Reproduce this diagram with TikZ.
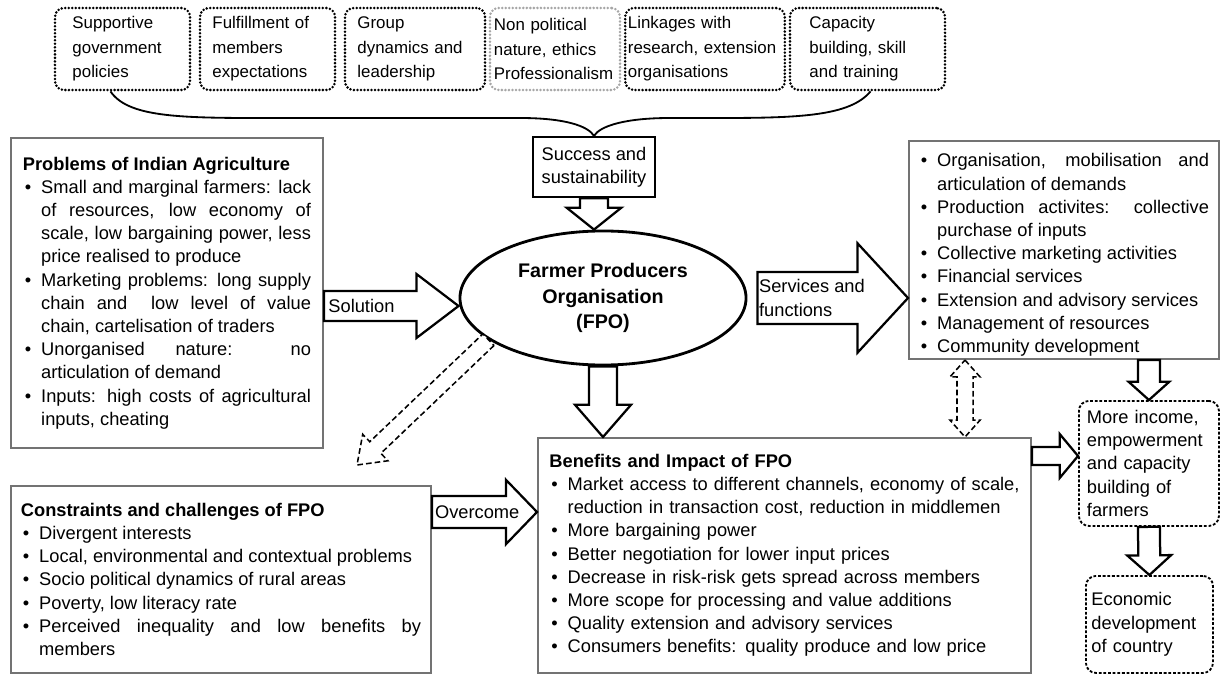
\documentclass[tikz,border=0pt]{standalone}
\usepackage{fontspec}
\setmainfont{Liberation Sans}
\usepackage{enumitem}
\usetikzlibrary{calc,shapes.geometric}

\setlength{\parindent}{0pt}
\newlist{blist}{itemize}{1}
\setlist[blist]{label=\textbullet,leftmargin=13pt,labelsep=7pt,itemsep=0pt,parsep=0pt,topsep=0pt,partopsep=0pt}

\newcommand{\txt}{\fontsize{13}{16.5}\selectfont}

\tikzset{
  bigbox/.style={draw=black!55, line width=1.3pt, anchor=north west, inner xsep=#1, inner ysep=2pt, align=justify, font=\txt},
  topbox/.style={draw, line width=2pt, dash pattern=on 0pt off 2.5pt, line cap=round, rounded corners=0.22cm, minimum height=2.05cm, inner xsep=2pt, align=left, font=\fontsize{12}{17.5}\selectfont},
  endbox/.style={draw, line width=1.3pt, dash pattern=on 2pt off 1.3pt, rounded corners=0.25cm, anchor=north west, align=left, font=\txt},
  fat/.style={draw, line width=1.6pt, fill=white, line join=miter},
  fatdash/.style={line width=1.1pt, dash pattern=on 4pt off 2.2pt},
}

% block arrow: from, tip, half shaft, half head, head length
\newcommand{\fatarrow}[6][]{%
  \path ($(#3)!#6!(#2)$) coordinate (fah);
  \draw[fat,#1] ($(#2)!#4!90:(#3)$) -- ($(fah)!#4!-90:(#2)$) -- ($(fah)!#5!-90:(#2)$) -- (#3)
    -- ($(fah)!#5!90:(#2)$) -- ($(fah)!#4!90:(#2)$) -- ($(#2)!#4!-90:(#3)$) -- cycle;
}
\newcommand{\fatdarrow}[6][]{%
  \path ($(#2)!#6!(#3)$) coordinate (fda) ($(#3)!#6!(#2)$) coordinate (fdb);
  \draw[fat,#1] (#2) -- ($(fda)!#5!90:(#3)$) -- ($(fda)!#4!90:(#3)$) -- ($(fdb)!#4!-90:(#2)$)
    -- ($(fdb)!#5!-90:(#2)$) -- (#3) -- ($(fdb)!#5!90:(#2)$) -- ($(fdb)!#4!90:(#2)$)
    -- ($(fda)!#4!-90:(#3)$) -- ($(fda)!#5!-90:(#3)$) -- cycle;
}

\begin{document}
\begin{tikzpicture}[x=0.025cm, y=-0.025cm]
\useasboundingbox (0,0) rectangle (1222,676);

\node[topbox, minimum width=3.375cm, text width=2.5cm] (f1) at (122.5,49) {Supportive\\government\\policies};
\node[topbox, minimum width=3.375cm, text width=2.75cm] (f2) at (267.5,49) {Fulfillment of\\members\\expectations};
\node[topbox, minimum width=3.5cm, text width=2.875cm] (f3) at (415,49) {Group\\dynamics and\\leadership};
\node[topbox, draw=black!35, minimum width=3.25cm, text width=3.05cm] (f4) at (555,49) {Non political\\nature, ethics\\Professionalism};
\node[topbox, minimum width=3.95cm, text width=3.85cm] (f5) at (705,49) {Linkages with\\research, extension\\organisations};
\node[topbox, minimum width=3.875cm, text width=2.9cm] (f6) at (867.5,49) {Capacity\\building, skill\\and training};

\node[draw, line width=1.6pt, minimum width=3.05cm, minimum height=1.5cm, inner sep=2pt, align=center, font=\txt] (succ) at (594,167) {Success and\\sustainability};
\draw[line width=1.3pt] ($(f1.south)+(-12,0)$) .. controls (130,120) and (190,118) .. (300,118) -- (520,118) .. controls (565,118) and (588,126) .. (succ.north);
\draw[line width=1.3pt] ($(f6.south)+(3,0)$) .. controls (850,116) and (800,118) .. (720,118) -- (670,118) .. controls (625,118) and (600,126) .. (succ.north);

\node[ellipse, draw, line width=2pt, minimum width=7.15cm, minimum height=3.35cm, inner sep=0pt, align=center, font=\fontsize{14}{18}\selectfont\bfseries] (fpo) at (603,298) {Farmer Producers\\Organisation\\(FPO)};

\node[bigbox=0.3cm, text width=7.2cm, minimum height=7.75cm] (prob) at (10,137) {\textbf{Problems of Indian Agriculture}
\begin{blist}
\item Small and marginal farmers: lack\linebreak of resources, low economy of\linebreak scale, low bargaining power, less\linebreak price realised to produce
\item Marketing problems: long supply\linebreak chain and\ \ low level of value\linebreak chain, cartelisation of traders
\item Unorganised nature: no\linebreak articulation of demand
\item Inputs: high costs of agricultural\linebreak inputs, cheating
\end{blist}};

\node[bigbox=0.25cm, text width=7.25cm, minimum height=5.375cm] (serv) at (908,140) {%
\begin{blist}
\item Organisation, mobilisation and\linebreak articulation of demands
\item Production activites: collective\linebreak purchase of inputs
\item Collective marketing activities
\item Financial services
\item Extension and advisory services
\item Management of resources
\item Community development
\end{blist}};

\node[bigbox=0.2875cm, text width=11.75cm, minimum height=5.875cm, align=left] (ben) at (537,437) {\textbf{Benefits and Impact of FPO}
\begin{blist}
\item Market access to different channels, economy of scale,\newline reduction in transaction cost, reduction in middlemen
\item More bargaining power
\item Better negotiation for lower input prices
\item Decrease in risk-risk gets spread across members
\item More scope for processing and value additions
\item Quality extension and advisory services
\item Consumers benefits: quality produce and low price
\end{blist}};

\node[bigbox=0.25cm, text width=10cm, minimum height=4.675cm] (cons) at (10,485) {\textbf{Constraints and challenges of FPO}
\begin{blist}
\item Divergent interests
\item Local, environmental and contextual problems
\item Socio political dynamics of rural areas
\item Poverty, low literacy rate
\item Perceived inequality and low benefits by\linebreak members
\end{blist}};

\node[endbox, minimum width=3.5cm, minimum height=3.125cm, text width=3.1cm] (inc) at (1078,400) {More income,\\empowerment\\and capacity\\building of\\farmers};
\node[endbox, minimum width=3.175cm, minimum height=2.425cm, text width=2.9cm] (eco) at (1085,575) {Economic\\development\\of country};

\coordinate (sf) at (succ.south |- fpo.north);
\coordinate (so0) at (prob.east |- fpo.west);
\coordinate (so1) at ($(so0)+(0,8)$);
\coordinate (so2) at ($(fpo.west)+(0,8)$);
\coordinate (sv1) at ($(fpo.east)+(10,0)$);
\coordinate (sv2) at (sv1 -| serv.west);
\coordinate (fd) at (fpo.south |- ben.north);
\coordinate (dg) at (357,465);
\coordinate (ddx) at (965,0);
\coordinate (dd1) at (ddx |- serv.south);
\coordinate (dd2) at (ddx |- ben.north);
\coordinate (sa) at (serv.south -| inc.north);
\coordinate (bi1) at ($(ben.north east)+(0,19)$);
\coordinate (bi2) at (bi1 -| inc.west);
\coordinate (ov1) at ($(cons.north east)+(0,27)$);
\coordinate (ov2) at (ov1 -| ben.west);

\fatarrow{succ.south}{sf}{10pt}{19.5pt}{15.6pt}
\fatarrow{so1}{so2}{10.7pt}{22.8pt}{30pt}
\fatarrow{sv1}{sv2}{18.5pt}{39pt}{36pt}
\fatarrow{fpo.south}{fd}{10pt}{20pt}{23pt}
\fatarrow[fatdash]{fpo.200}{dg}{5.7pt}{13pt}{18pt}
\fatdarrow[fatdash]{dd1}{dd2}{5.7pt}{10.7pt}{12pt}
\fatarrow{sa}{inc.north}{7.8pt}{14.5pt}{13pt}
\fatarrow{inc.south}{eco.north}{7.8pt}{15.6pt}{14pt}
\fatarrow{bi1}{bi2}{6.4pt}{15.6pt}{13pt}
\fatarrow{ov1}{ov2}{11.4pt}{22.8pt}{22pt}

\node[right, font=\txt, inner sep=3pt] (sol) at (so1) {Solution};
\node[right, align=left, font=\txt, inner sep=1pt] (svl) at (sv1) {Services and\\functions};
\node[right, font=\txt, inner sep=2pt] (ovl) at (ov1) {Overcome};
\end{tikzpicture}
\end{document}
